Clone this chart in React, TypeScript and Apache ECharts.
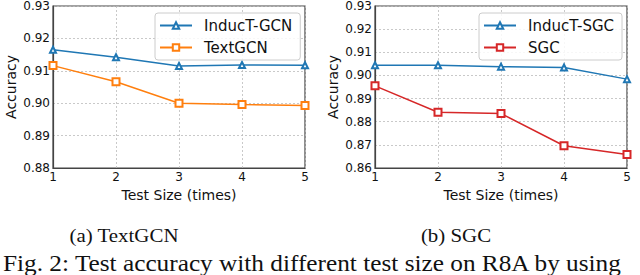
import React, { useEffect, useRef } from "react";
import * as echarts from "echarts";

const testSizes = [1, 2, 3, 4, 5];
const inductGcn = [0.9165, 0.9142, 0.9115, 0.9118, 0.9117];
const textGcn = [0.9116, 0.9066, 0.9, 0.8996, 0.8993];
const inductSgc = [0.9044, 0.9044, 0.9038, 0.9034, 0.8984];
const sgc = [0.8955, 0.8841, 0.8835, 0.8696, 0.8658];

const xName = "Test Size (times)";
const yName = "Accuracy";
const subCaptions = ["(a) TextGCN", "(b) SGC"];
const figCaption = "Fig. 2: Test accuracy with different test size on R8A by using";

const sans = "DejaVu Sans";
const serif = "'Liberation Serif', 'Times New Roman', Times, serif";

function pairs(vals: number[]) {
  return testSizes.map((x, i) => [x, vals[i]]);
}

export default function App() {
  const ref = useRef<HTMLDivElement>(null);
  useEffect(() => {
    if (!ref.current) return;
    const chart = echarts.init(ref.current, null, { renderer: "svg" });
    const frame = "#444";
    const mkX = (gi: number) => ({
      type: "value",
      gridIndex: gi,
      min: 1,
      max: 5,
      interval: 1,
      name: xName,
      nameLocation: "middle",
      nameGap: 17,
      nameTextStyle: { fontFamily: sans, fontSize: 14, color: "#111" },
      axisLine: { show: true, lineStyle: { color: frame, width: 1.2 } },
      axisTick: { show: false },
      axisLabel: { fontFamily: sans, fontSize: 12, color: "#111", margin: 3 },
      splitLine: { show: true, lineStyle: { color: "#bbb", type: [2, 2], width: 0.8 } },
    });
    const mkY = (gi: number, min: number) => ({
      type: "value",
      gridIndex: gi,
      min,
      max: 0.93,
      interval: 0.01,
      name: yName,
      nameLocation: "middle",
      nameGap: 35,
      nameTextStyle: { fontFamily: sans, fontSize: 14, color: "#111" },
      axisLine: { show: true, lineStyle: { color: frame, width: 1.2 } },
      axisTick: { show: false },
      axisLabel: {
        fontFamily: sans,
        fontSize: 12,
        color: "#111",
        margin: 3,
        formatter: (v: number) => v.toFixed(2),
      },
      splitLine: { show: true, lineStyle: { color: "#bbb", type: [2, 2], width: 0.8 } },
    });
    const mkSeries = (name: string, vals: number[], gi: number, color: string, symbol: string, size: number) => ({
      type: "line",
      name,
      xAxisIndex: gi,
      yAxisIndex: gi,
      data: pairs(vals),
      symbol,
      symbolSize: size,
      showAllSymbol: true,
      lineStyle: { color, width: 1.5 },
      itemStyle: { color, borderColor: color, borderWidth: 1.2 },
    });
    const mkLegend = (left: number, names: string[]) => ({
      orient: "vertical",
      left,
      top: 13,
      data: names,
      itemWidth: 32,
      itemHeight: 8,
      itemGap: 7,
      padding: [5, 8, 5, 4],
      borderColor: "#ccc",
      borderWidth: 1,
      borderRadius: 3,
      backgroundColor: "rgba(255,255,255,0.85)",
      textStyle: { fontFamily: sans, fontSize: 15, color: "#111", padding: [0, 0, 0, 7] },
    });
    chart.setOption({
      animation: false,
      grid: [
        { left: 53, top: 5, width: 252, height: 163, show: true, borderColor: frame, borderWidth: 1.2 },
        { left: 375, top: 5, width: 252, height: 163, show: true, borderColor: frame, borderWidth: 1.2 },
      ],
      xAxis: [mkX(0), mkX(1)],
      yAxis: [mkY(0, 0.88), mkY(1, 0.86)],
      legend: [mkLegend(155, ["InducT-GCN", "TextGCN"]), mkLegend(479, ["InducT-SGC", "SGC"])],
      series: [
        mkSeries("InducT-GCN", inductGcn, 0, "#1f77b4", "emptyTriangle", 6),
        mkSeries("TextGCN", textGcn, 0, "#ff7f0e", "emptyRect", 7),
        mkSeries("InducT-SGC", inductSgc, 1, "#1f77b4", "emptyTriangle", 6),
        mkSeries("SGC", sgc, 1, "#d62728", "emptyRect", 7),
      ],
      graphic: [
        {
          type: "text",
          x: 124,
          y: 235,
          scaleX: 1.1,
          style: { text: subCaptions[0], fontFamily: serif, fontSize: 19, fill: "#111", align: "center", verticalAlign: "middle" },
        },
        {
          type: "text",
          x: 456,
          y: 235,
          scaleX: 1.1,
          style: { text: subCaptions[1], fontFamily: serif, fontSize: 19, fill: "#111", align: "center", verticalAlign: "middle" },
        },
        {
          type: "text",
          x: 3,
          y: 251,
          scaleX: 1.1,
          style: { text: figCaption, fontFamily: serif, fontSize: 23, fill: "#111", align: "left", verticalAlign: "top" },
        },
      ],
    });
    return () => chart.dispose();
  }, []);
  return (
    <div
      ref={ref}
      style={{ position: "fixed", left: 0, top: 0, width: 640, height: 275, background: "#fff" }}
    />
  );
}
